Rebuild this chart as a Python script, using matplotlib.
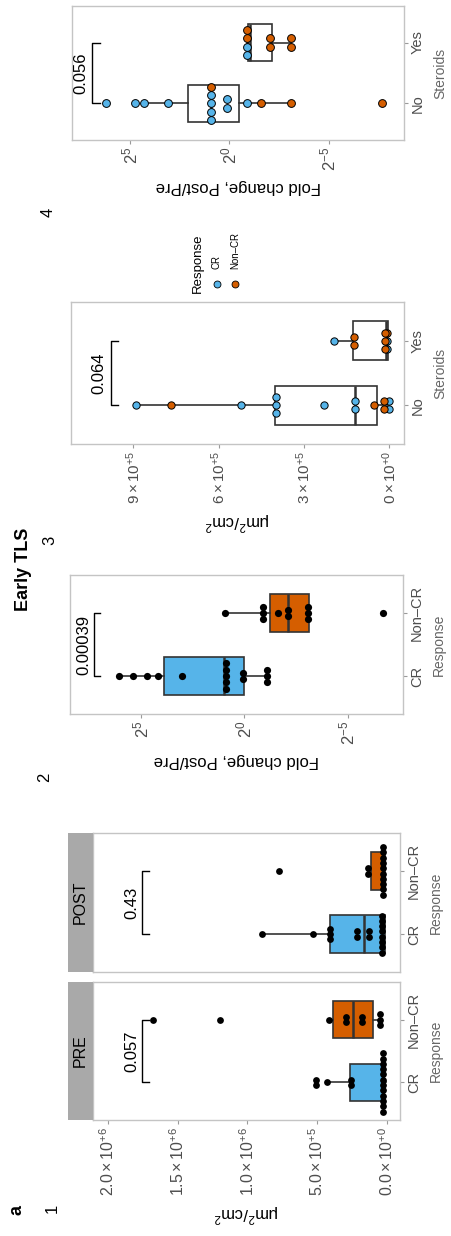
import matplotlib
matplotlib.use("Agg")
import matplotlib.pyplot as plt
from matplotlib.lines import Line2D

BLUE, ORANGE = "#56B4E9", "#D55E00"
EDGE, FRAME, STRIP, TICK, MUTED = "#333333", "#C4C4C4", "#A9A9A9", "#4D4D4D", "#666666"

plt.rcParams.update({
    "font.family": ["Liberation Sans", "DejaVu Sans"],
    "mathtext.fontset": "custom", "mathtext.rm": "Liberation Sans",
    "mathtext.it": "Liberation Sans:italic", "mathtext.bf": "Liberation Sans:bold",
})

# ---- data ----
# panel 1: TLS density, um^2/cm^2, PRE / POST by response
pre_cr = [10e3, 14e3, 17e3, 20e3, 23e3, 26e3, 29e3, 32e3, 36e3, 40e3, 44e3, 48e3,
          258e3, 262e3, 428e3, 508e3, 514e3]
pre_noncr = [45e3, 48e3, 52e3, 178e3, 184e3, 286e3, 292e3, 416e3, 1.197e6, 1.675e6]
post_cr = [22e3, 25e3, 28e3, 31e3, 33e3, 36e3, 38e3, 40e3, 123e3, 127e3, 213e3, 217e3,
           402e3, 404e3, 406e3, 526e3, 892e3]
post_noncr = [20e3, 22e3, 24e3, 26e3, 28e3, 30e3, 32e3, 34e3, 36e3, 38e3, 132e3, 136e3, 772e3]
# box stats: whislo, q1, median, q3, whishi
pre_cr_box = [8e3, 19e3, 24e3, 264e3, 428e3]
pre_noncr_box = [45e3, 96e3, 241e3, 385e3, 416e3]
post_cr_box = [12e3, 14e3, 163e3, 404e3, 892e3]
post_noncr_box = [12e3, 14e3, 25e3, 110e3, 136e3]

# panel 2: fold change Post/Pre (log2) by response
fc_cr = [6.09, 5.38, 4.70, 4.20, 3.04, 0.88, 0.89, 0.90, 0.91, 0.92, 0.05, 0.07,
         -1.06, -1.07, -1.08]
fc_noncr = [0.94, -0.90, -0.91, -0.92, -1.61, -2.08, -2.10, -3.08, -3.09, -3.10, -6.72]
fc_cr_box = [-1.07, 0.02, 0.98, 3.90, 6.09]
fc_noncr_box = [-3.14, -3.14, -2.09, -1.23, 0.94]

# panel 3: TLS density by steroids, coloured by response
st_no_vals = [8.89e5, 5.22e5, 3.97e5, 3.98e5, 3.99e5, 2.31e5, 1.20e5, 1.21e5, 1e3, 2e3,
              7.68e5, 5.2e4, 1.8e4, 1.9e4]
st_no_resp = ["CR"] * 10 + ["Non-CR"] * 4
st_yes_vals = [1.93e5, 1e3, 2e3, 1.25e5, 1.26e5, 1.2e4, 1.3e4, 1.3e4, 1.4e4]
st_yes_resp = ["CR"] * 3 + ["Non-CR"] * 6
st_no_box = [2e3, 4.2e4, 1.21e5, 4.02e5, 8.89e5]
st_yes_box = [2e3, 6e3, 1.3e4, 1.26e5, 1.93e5]

# panel 4: fold change (log2) by steroids, coloured by response
fs_no_vals = [6.21, 4.78, 4.28, 3.10, 0.90, 0.91, 0.91, 0.92, 0.11, 0.12, -0.89,
              0.91, -1.57, -3.08, -7.66]
fs_no_resp = ["CR"] * 11 + ["Non-CR"] * 4
fs_yes_vals = [-0.88, -0.89, -0.89, -0.90, -2.03, -2.05, -3.07, -3.09]
fs_yes_resp = ["CR"] * 2 + ["Non-CR"] * 6
fs_no_box = [-2.91, -0.50, 0.91, 2.11, 4.28]
fs_yes_box = [-3.08, -2.12, -1.02, -0.95, -0.89]

p_values = ["0.057", "0.43", "0.00039", "0.064", "0.056"]
resp_cats = ["CR", "Non–CR"]
ster_cats = ["No", "Yes"]
lin1_ticks = [0, 5e5, 1e6, 1.5e6, 2e6]
lin1_labels = [r"$0.0\times10^{+0}$", r"$5.0\times10^{+5}$", r"$1.0\times10^{+6}$",
               r"$1.5\times10^{+6}$", r"$2.0\times10^{+6}$"]
lin3_ticks = [0, 3e5, 6e5, 9e5]
lin3_labels = [r"$0\times10^{+0}$", r"$3\times10^{+5}$", r"$6\times10^{+5}$", r"$9\times10^{+5}$"]
log_ticks = [-5, 0, 5]
log_labels = [r"$2^{-5}$", r"$2^{0}$", r"$2^{5}$"]

W, H = 451, 1236
fig = plt.figure(figsize=(W / 100, H / 100), dpi=100)


def add_ax(x0, y0, x1, y1):
    return fig.add_axes([x0 / W, 1 - y1 / H, (x1 - x0) / W, (y1 - y0) / H])


def ftext(x, y, s, **kw):
    fig.text(x / W, 1 - y / H, s, **kw)


def panel(rect, xlim, ticks, labels, cats, cat_title, show_x=True, fs_tick=11):
    ax = add_ax(*rect)
    ax.set_xlim(*xlim)
    ax.set_ylim(0.4, 2.6)
    ax.set_yticks([1, 2])
    ax.set_yticklabels(cats, rotation=90, va="center", fontsize=10.5, color=TICK)
    ax.yaxis.tick_right()
    ax.yaxis.set_label_position("right")
    ax.set_ylabel(cat_title, fontsize=10, color=MUTED, labelpad=6)
    ax.set_xticks(ticks)
    ax.set_xticklabels(labels, rotation=90, fontsize=fs_tick, color=TICK)
    if not show_x:
        ax.tick_params(axis="x", bottom=False, labelbottom=False)
    ax.tick_params(color="#9A9A9A", length=3, width=0.8, pad=2)
    for s in ax.spines.values():
        s.set_color(FRAME)
        s.set_linewidth(1)
    return ax


def box(ax, st, pos, fill):
    lo, q1, med, q3, hi = st
    ax.bxp([dict(whislo=lo, q1=q1, med=med, q3=q3, whishi=hi, fliers=[])],
           positions=[pos], widths=0.6, orientation="horizontal", patch_artist=True,
           showcaps=False, showfliers=False, manage_ticks=False, zorder=2,
           boxprops=dict(facecolor=fill, edgecolor=EDGE, linewidth=1.2),
           whiskerprops=dict(color=EDGE, linewidth=1.2),
           medianprops=dict(color=EDGE, linewidth=1.8))


def dots(ax, vals, pos, binw, dia, step, resp=None):
    colored = resp is not None
    resp = resp or ["CR"] * len(vals)
    ppu = ax.get_position().height * H / 2.2
    order = sorted(range(len(vals)), key=lambda i: vals[i])
    bins = []
    for i in order:
        if bins and vals[i] - vals[bins[-1][0]] < binw:
            bins[-1].append(i)
        else:
            bins.append([i])
    for b in bins:
        c = (vals[b[0]] + vals[b[-1]]) / 2
        b = sorted(b, key=lambda i: resp[i])
        n = len(b)
        for k, i in enumerate(b):
            y = pos + (k - (n - 1) / 2) * step / ppu
            if colored:
                fc = BLUE if resp[i] == "CR" else ORANGE
                ax.plot(c, y, "o", ms=dia * 0.72, mfc=fc, mec="black", mew=0.7, zorder=3)
            else:
                ax.plot(c, y, "o", ms=dia * 0.72, mfc="black", mec="black", mew=0, zorder=3)


def bracket(ax, bx, tick, lab_x, label):
    ax.plot([bx - tick, bx, bx, bx - tick], [1, 1, 2, 2], color="black", lw=1, zorder=3)
    ax.text(lab_x, 1.5, label, rotation=90, ha="center", va="center", fontsize=12)


# ---- panel 1: PRE / POST facets ----
lim1 = (2.107e6, -9.5e4)
pre = panel((93, 982, 400, 1120), lim1, lin1_ticks, lin1_labels, resp_cats, "Response",
            fs_tick=11.5)
pre.set_xlabel(r"μm$^2$/cm$^2$", rotation=180, fontsize=12, labelpad=4)
post = panel((93, 833, 400, 972), lim1, lin1_ticks, lin1_labels, resp_cats, "Response",
             show_x=False)
for ax, title, (cr, ncr, cr_b, ncr_b), p in [
        (pre, "PRE", (pre_cr, pre_noncr, pre_cr_box, pre_noncr_box), p_values[0]),
        (post, "POST", (post_cr, post_noncr, post_cr_box, post_noncr_box), p_values[1])]:
    box(ax, cr_b, 1, BLUE)
    box(ax, ncr_b, 2, ORANGE)
    dots(ax, cr, 1, 40e3, 6.8, 5.3)
    dots(ax, ncr, 2, 40e3, 6.8, 5.3)
    bracket(ax, 1.757e6, 5.4e4, 1.83e6, p)
    pos = ax.get_position()
    sax = fig.add_axes([68 / W, pos.y0, 25 / W, pos.height])
    sax.set_facecolor(STRIP)
    sax.set_xticks([]); sax.set_yticks([])
    for s in sax.spines.values():
        s.set_visible(False)
    sax.text(0.5, 0.5, title, rotation=90, ha="center", va="center", fontsize=11.5,
             transform=sax.transAxes)

# ---- panel 2: fold change by response ----
ax2 = panel((70, 575, 403, 714), (8.45, -7.68), log_ticks, log_labels, resp_cats, "Response",
            fs_tick=12)
ax2.set_xlabel("Fold change, Post/Pre", rotation=180, fontsize=12, labelpad=6)
box(ax2, fc_cr_box, 1, BLUE)
box(ax2, fc_noncr_box, 2, ORANGE)
dots(ax2, fc_cr, 1, 0.3, 7.2, 6.3)
dots(ax2, fc_noncr, 2, 0.3, 7.2, 6.3)
bracket(ax2, 7.30, 0.31, 7.78, p_values[2])

# ---- panel 3: density by steroids ----
ax3 = panel((71, 302, 404, 444), (1.119e6, -5.2e4), lin3_ticks, lin3_labels, ster_cats,
            "Steroids", fs_tick=11)
ax3.set_xlabel(r"μm$^2$/cm$^2$", rotation=180, fontsize=12, labelpad=4)
box(ax3, st_no_box, 1, "white")
box(ax3, st_yes_box, 2, "white")
dots(ax3, st_no_vals, 1, 12e3, 7.3, 8, st_no_resp)
dots(ax3, st_yes_vals, 2, 12e3, 7.3, 8, st_yes_resp)
bracket(ax3, 9.79e5, 2.6e4, 1.02e6, p_values[3])

# ---- panel 4: fold change by steroids ----
ax4 = panel((72, 6, 404, 140), (7.93, -8.79), log_ticks, log_labels, ster_cats, "Steroids",
            fs_tick=12)
ax4.set_xlabel("Fold change, Post/Pre", rotation=180, fontsize=12, labelpad=6)
box(ax4, fs_no_box, 1, "white")
box(ax4, fs_yes_box, 2, "white")
dots(ax4, fs_no_vals, 1, 0.3, 7.8, 8.3, fs_no_resp)
dots(ax4, fs_yes_vals, 2, 0.3, 7.8, 8.3, fs_yes_resp)
bracket(ax4, 6.93, 0.41, 7.48, p_values[4])

# ---- legend ----
ftext(198, 263, "Response", rotation=90, ha="center", va="center", fontsize=9.5)
for x, lab, col in [(217, resp_cats[0], BLUE), (235, resp_cats[1], ORANGE)]:
    fig.add_artist(Line2D([x / W], [1 - 284 / H], marker="o", ms=5, mfc=col, mec="black",
                          mew=0.6, transform=fig.transFigure))
    ftext(x, 269, lab, rotation=90, ha="center", va="bottom", fontsize=7)

# ---- panel labels ----
ftext(17, 1210, "a", rotation=90, ha="center", va="center", fontsize=13, fontweight="bold")
ftext(24, 569, "Early TLS", rotation=90, ha="center", va="center", fontsize=13,
      fontweight="bold")
for x, y, s in [(52, 1208, "1"), (45, 777, "2"), (50, 540, "3"), (48, 212, "4")]:
    ftext(x, y, s, rotation=90, ha="center", va="center", fontsize=12)

fig.savefig("out.png", dpi=100)
